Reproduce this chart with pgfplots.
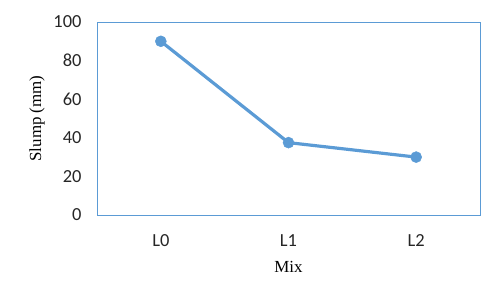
\documentclass[border=0pt]{standalone}
\usepackage{pgfplots}
\pgfplotsset{compat=1.18}
\usepackage{fontspec}
\setmainfont{Liberation Serif}
\newfontfamily\calib{Carlito}
\definecolor{lineblue}{HTML}{5B9BD5}
\begin{document}
\begin{tikzpicture}
\path[use as bounding box] (-97bp,-88bp) rectangle (407bp,215bp);
\begin{axis}[
  at={(0,0)}, anchor=south west,
  scale only axis,
  width=383bp, height=193bp,
  xmin=-0.5, xmax=2.5,
  ymin=0, ymax=100,
  xtick={0,1,2},
  xticklabels={L0,L1,L2},
  ytick={0,20,40,60,80,100},
  major tick length=0pt,
  axis line style={lineblue, line width=0.9pt},
  tick label style={font=\calib\fontsize{18.5}{20}\selectfont, text=black!85},
  /pgf/number format/assume math mode=true,
  yticklabel style={xshift=-12bp},
  xticklabel style={yshift=-16bp},
  xlabel={Mix}, ylabel={Slump (mm)},
  label style={font=\fontsize{17}{19}\selectfont},
  xlabel style={yshift=-8bp},
  ylabel style={yshift=2bp},
]
\addplot[lineblue, line width=3.2pt, mark=*, mark size=5.5bp, mark options={solid, fill=lineblue, draw=lineblue, line width=0.5pt}]
coordinates {(0,90) (1,37.5) (2,30)};
\end{axis}
\end{tikzpicture}
\end{document}
